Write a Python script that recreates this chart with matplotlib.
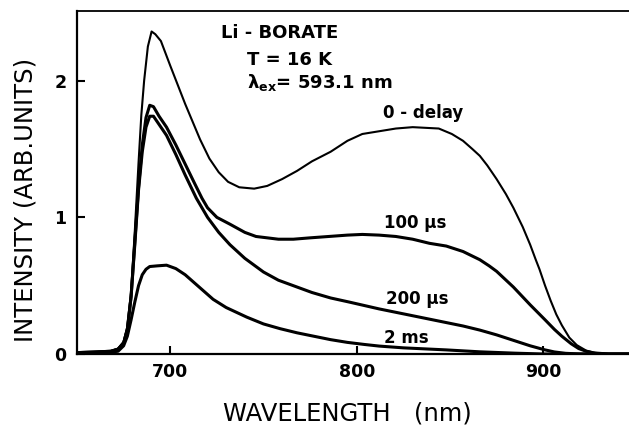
import matplotlib
matplotlib.use("Agg")
import matplotlib.pyplot as plt

# emission spectra of Li-borate at 16 K, gated at several delays
wl_0 = [650, 660, 668, 672, 675, 677, 679, 681, 683, 684.5, 686, 688, 690, 692, 695,
        700, 704, 708, 712, 716, 721, 726, 731, 737, 745, 752, 760, 768, 776, 786,
        795, 803, 812, 821, 830, 844, 851, 857, 862, 866, 870, 875, 880, 884, 889,
        893, 896, 898, 901, 904, 907, 910, 914, 918, 923, 928, 935, 946]
int_0 = [0.01, 0.015, 0.02, 0.04, 0.09, 0.2, 0.45, 0.9, 1.4, 1.75, 2.0, 2.25, 2.36, 2.34, 2.29,
         2.11, 1.97, 1.83, 1.70, 1.57, 1.43, 1.33, 1.26, 1.22, 1.21, 1.23, 1.28, 1.34, 1.41, 1.48,
         1.56, 1.61, 1.63, 1.65, 1.66, 1.65, 1.61, 1.56, 1.50, 1.45, 1.38, 1.28, 1.17, 1.07, 0.93,
         0.80, 0.69, 0.62, 0.50, 0.39, 0.29, 0.21, 0.12, 0.065, 0.025, 0.008, 0.0, 0.0]

wl_100 = [650, 660, 668, 672, 675, 677, 679, 681, 683, 685, 687, 689, 691, 694, 698,
          703, 708, 713, 717, 720, 725, 732, 740, 746, 752, 758, 766, 775, 785, 795,
          803, 812, 821, 830, 839, 848, 857, 866, 871, 875, 884, 893, 901, 906, 910,
          915, 919, 923, 927, 935, 946]
int_100 = [0.01, 0.015, 0.02, 0.035, 0.08, 0.18, 0.42, 0.82, 1.22, 1.53, 1.73, 1.82, 1.81, 1.74, 1.66,
           1.53, 1.39, 1.25, 1.14, 1.07, 1.00, 0.95, 0.89, 0.86, 0.85, 0.84, 0.84, 0.85, 0.86, 0.87,
           0.875, 0.87, 0.86, 0.84, 0.81, 0.79, 0.75, 0.69, 0.645, 0.605, 0.49, 0.36, 0.25, 0.18, 0.13,
           0.075, 0.04, 0.02, 0.008, 0.0, 0.0]

wl_200 = [650, 660, 668, 672, 675, 677, 679, 681, 683, 685, 687, 689, 691, 694, 698,
          703, 708, 714, 720, 726, 732, 740, 750, 758, 768, 776, 786, 796, 804, 812,
          821, 830, 839, 848, 857, 866, 875, 884, 893, 901, 906, 912, 920, 946]
int_200 = [0.01, 0.015, 0.02, 0.035, 0.08, 0.18, 0.42, 0.8, 1.2, 1.48, 1.66, 1.74, 1.74, 1.68, 1.60,
           1.46, 1.31, 1.14, 1.00, 0.89, 0.80, 0.70, 0.60, 0.54, 0.49, 0.45, 0.41, 0.38, 0.355, 0.33,
           0.305, 0.28, 0.255, 0.23, 0.205, 0.175, 0.14, 0.10, 0.06, 0.03, 0.015, 0.005, 0.0, 0.0]

wl_2ms = [650, 665, 672, 675, 677, 679, 681, 683, 685, 687, 689, 693, 698, 703, 708,
          713, 718, 723, 730, 741, 750, 759, 768, 777, 786, 795, 804, 812, 825, 848,
          866, 885, 900, 946]
int_2ms = [0.005, 0.01, 0.02, 0.06, 0.13, 0.25, 0.38, 0.50, 0.58, 0.62, 0.64, 0.645, 0.65, 0.625, 0.58,
           0.52, 0.46, 0.40, 0.34, 0.27, 0.22, 0.185, 0.155, 0.13, 0.105, 0.085, 0.07, 0.058, 0.045, 0.03,
           0.016, 0.006, 0.0, 0.0]

curve_labels = ["0 - delay", "100 \u00b5s", "200 \u00b5s", "2 ms"]
label_x = [835.8, 831.5, 832.6, 826.7]
label_y = [1.76, 0.96, 0.40, 0.12]

plt.rcParams['font.family'] = 'DejaVu Sans'
plt.rcParams['font.weight'] = 'bold'
plt.rcParams['mathtext.default'] = 'bf'

fig = plt.figure(figsize=(6.29, 4.28), dpi=100)
ax = fig.add_axes([77 / 629, 74 / 428, 552 / 629, 343 / 428])

ax.plot(wl_0, int_0, color='black', lw=1.5)
ax.plot(wl_100, int_100, color='black', lw=2.2)
ax.plot(wl_200, int_200, color='black', lw=2.2)
ax.plot(wl_2ms, int_2ms, color='black', lw=2.2)

for txt, x, y in zip(curve_labels, label_x, label_y):
    ax.text(x, y, txt, ha='center', va='center', fontsize=12)

ax.text(727, 2.35, "Li - BORATE", fontsize=13, va='center')
ax.text(741, 2.155, "T = 16 K", fontsize=13, va='center')
ax.text(741, 1.985, r"$\lambda_{ex}$= 593.1 nm", fontsize=13, va='center')

ax.set_xlim(650, 946)
ax.set_ylim(0, 2.51)
ax.set_xticks([700, 800, 900])
ax.set_yticks([0, 1, 2])
ax.tick_params(direction='in', length=6, width=1.5, labelsize=12.5)
ax.tick_params(axis='x', pad=6.5)
ax.tick_params(axis='y', pad=7.5)

ax.spines['right'].set_visible(False)
for side in ['left', 'bottom']:
    ax.spines[side].set_linewidth(1.6)
ax.spines['top'].set_linewidth(1.3)

ax.set_xlabel("WAVELENGTH   (nm)", fontsize=17.5, fontweight='normal')
ax.set_ylabel("INTENSITY (ARB.UNITS)", fontsize=17.5, fontweight='normal')
ax.xaxis.set_label_coords((347 - 77) / 552, (354 - 401) / 343)
ax.yaxis.set_label_coords((38 - 77) / 552, (354 - 200) / 343)

fig.savefig("out.png", dpi=100)
